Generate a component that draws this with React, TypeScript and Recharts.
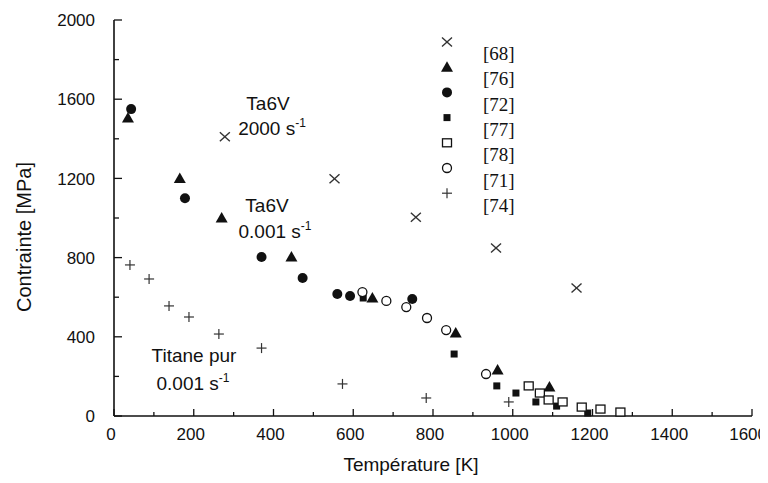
import { ScatterChart, Scatter, XAxis, YAxis, Legend } from "recharts";

// values (temperature K, stress MPa)
const ref68 = [
  { t: 278, s: 1410 },
  { t: 553, s: 1198 },
  { t: 757, s: 1004 },
  { t: 958, s: 848 },
  { t: 1160, s: 646 },
];
const ref76 = [
  { t: 35, s: 1505 },
  { t: 165, s: 1200 },
  { t: 270, s: 1000 },
  { t: 445, s: 803 },
  { t: 648, s: 596 },
  { t: 857, s: 419 },
  { t: 962, s: 232 },
  { t: 1092, s: 146 },
];
const ref72 = [
  { t: 43, s: 1550 },
  { t: 178, s: 1100 },
  { t: 370, s: 803 },
  { t: 473, s: 697 },
  { t: 560, s: 616 },
  { t: 592, s: 606 },
  { t: 748, s: 591 },
];
const ref77 = [
  { t: 625, s: 596 },
  { t: 853, s: 313 },
  { t: 960, s: 152 },
  { t: 1008, s: 116 },
  { t: 1058, s: 71 },
  { t: 1110, s: 50 },
  { t: 1188, s: 15 },
];
const ref78 = [
  { t: 1040, s: 152 },
  { t: 1068, s: 116 },
  { t: 1090, s: 81 },
  { t: 1125, s: 71 },
  { t: 1173, s: 45 },
  { t: 1220, s: 35 },
  { t: 1270, s: 20 },
];
const ref71 = [
  { t: 623, s: 626 },
  { t: 683, s: 581 },
  { t: 733, s: 550 },
  { t: 785, s: 495 },
  { t: 833, s: 434 },
  { t: 933, s: 212 },
];
const ref74 = [
  { t: 40, s: 763 },
  { t: 88, s: 692 },
  { t: 138, s: 556 },
  { t: 188, s: 500 },
  { t: 263, s: 414 },
  { t: 370, s: 343 },
  { t: 573, s: 162 },
  { t: 783, s: 91 },
  { t: 990, s: 71 },
];

const series = [
  { name: "[68]", kind: "x", data: ref68 },
  { name: "[76]", kind: "tri", data: ref76 },
  { name: "[72]", kind: "dot", data: ref72 },
  { name: "[77]", kind: "sq", data: ref77 },
  { name: "[78]", kind: "osq", data: ref78 },
  { name: "[71]", kind: "ocirc", data: ref71 },
  { name: "[74]", kind: "plus", data: ref74 },
];

const xTicks = [0, 100, 200, 300, 400, 500, 600, 700, 800, 900, 1000, 1100, 1200, 1300, 1400, 1500, 1600];
const yTicks = [0, 200, 400, 600, 800, 1000, 1200, 1400, 1600, 1800, 2000];

const INK = "#111";
const SANS = "'Liberation Sans', Arial, sans-serif";
const W = 760;
const H = 467;

function Marker({ cx, cy, kind }: { cx: number; cy: number; kind: string }) {
  switch (kind) {
    case "x":
      return (
        <g stroke="#333" strokeWidth={1.4}>
          <line x1={cx - 5} y1={cy - 4.5} x2={cx + 5} y2={cy + 4.5} />
          <line x1={cx - 5} y1={cy + 4.5} x2={cx + 5} y2={cy - 4.5} />
        </g>
      );
    case "tri":
      return <polygon points={`${cx},${cy - 6} ${cx - 6},${cy + 4.5} ${cx + 6},${cy + 4.5}`} fill={INK} />;
    case "dot":
      return <circle cx={cx} cy={cy} r={5} fill={INK} />;
    case "sq":
      return <rect x={cx - 3.5} y={cy - 3.5} width={7} height={7} fill={INK} />;
    case "osq":
      return <rect x={cx - 4.5} y={cy - 4} width={9} height={8} fill="#fff" stroke={INK} strokeWidth={1.3} />;
    case "ocirc":
      return <circle cx={cx} cy={cy} r={4.5} fill="#fff" stroke={INK} strokeWidth={1.3} />;
    default:
      return (
        <g stroke="#333" strokeWidth={1.2}>
          <line x1={cx - 5} y1={cy} x2={cx + 5} y2={cy} />
          <line x1={cx} y1={cy - 5} x2={cx} y2={cy + 5} />
        </g>
      );
  }
}

const BOTTOM_GAP = 12;
const LEFT_GAP = 19;

function BottomTick(props: any) {
  const { x, y, payload } = props;
  const major = payload.value % 200 === 0;
  const axisY = y - BOTTOM_GAP;
  // the last label would run past the page edge, so it is kept inside
  const last = payload.value === 1600;
  return (
    <g>
      <line x1={x} x2={x} y1={axisY} y2={axisY - (major ? 7 : 4)} stroke={INK} strokeWidth={1.3} />
      {major && (
        <text
          x={last ? W - 1 : x - 3}
          y={y + 12}
          textAnchor={last ? "end" : "middle"}
          fontFamily={SANS}
          fontSize={17}
          fill={INK}
        >
          {payload.value}
        </text>
      )}
    </g>
  );
}

function LeftTick(props: any) {
  const { x, y, payload } = props;
  const major = payload.value % 400 === 0;
  const axisX = x + LEFT_GAP;
  return (
    <g>
      <line x1={axisX} x2={axisX + (major ? 8 : 5)} y1={y} y2={y} stroke={INK} strokeWidth={1.3} />
      {major && (
        <text x={x} y={y} dy="0.36em" textAnchor="end" fontFamily={SANS} fontSize={17} fill={INK}>
          {payload.value}
        </text>
      )}
    </g>
  );
}

function TopTick(props: any) {
  const { x, y, payload } = props;
  const major = payload.value % 200 === 0;
  return <line x1={x} x2={x} y1={y} y2={y + (major ? 7 : 4)} stroke={INK} strokeWidth={1.3} />;
}

function RightTick(props: any) {
  const { x, y, payload } = props;
  const major = payload.value % 400 === 0;
  return <line x1={x} x2={x - (major ? 8 : 5)} y1={y} y2={y} stroke={INK} strokeWidth={1.3} />;
}

function LegendBox() {
  return (
    <svg width={90} height={200} style={{ display: "block" }}>
      {series.map((s, i) => (
        <g key={s.name}>
          <Marker cx={11} cy={14 + i * 25.2} kind={s.kind} />
          <text x={47} y={32 + i * 25.3} fontFamily="'Liberation Serif', 'Times New Roman', serif" fontSize={19} fill={INK}>
            {s.name}
          </text>
        </g>
      ))}
    </svg>
  );
}

function Rate({ x, y, value }: { x: number; y: number; value: string }) {
  return (
    <text x={x} y={y} textAnchor="middle" fontFamily={SANS} fontSize={19} fill={INK}>
      {value} s<tspan dy={-8} fontSize={12}>-1</tspan>
    </text>
  );
}

export default function App() {
  return (
    <div style={{ position: "relative", width: W, height: H }}>
      <ScatterChart width={W} height={H} margin={{ top: 12, right: 16, left: 0, bottom: 0 }}>
        <XAxis
          xAxisId="b"
          type="number"
          dataKey="t"
          domain={[0, 1600]}
          ticks={xTicks}
          interval={0}
          height={59}
          tickSize={0}
          tickMargin={BOTTOM_GAP}
          tickLine={false}
          tick={<BottomTick />}
          axisLine={{ stroke: INK, strokeWidth: 1.6 }}
        />
        <XAxis
          xAxisId="top"
          orientation="top"
          type="number"
          domain={[0, 1600]}
          ticks={xTicks}
          interval={0}
          height={0}
          tickSize={0}
          tickMargin={0}
          tickLine={false}
          tick={<TopTick />}
          axisLine={{ stroke: "#555", strokeWidth: 1.3 }}
        />
        <YAxis
          yAxisId="l"
          type="number"
          dataKey="s"
          domain={[0, 2000]}
          ticks={yTicks}
          interval={0}
          width={106}
          tickSize={0}
          tickMargin={LEFT_GAP}
          tickLine={false}
          tick={<LeftTick />}
          axisLine={{ stroke: INK, strokeWidth: 1.6 }}
        />
        <YAxis
          yAxisId="r"
          orientation="right"
          type="number"
          domain={[0, 2000]}
          ticks={yTicks}
          interval={0}
          width={0}
          tickSize={0}
          tickMargin={0}
          tickLine={false}
          tick={<RightTick />}
          axisLine={{ stroke: INK, strokeWidth: 1.6 }}
        />
        {series.map((s) => (
          <Scatter
            key={s.name}
            name={s.name}
            data={s.data}
            xAxisId="b"
            yAxisId="l"
            isAnimationActive={false}
            shape={(p: any) => <Marker cx={p.cx} cy={p.cy} kind={s.kind} />}
          />
        ))}
        <Legend
          layout="horizontal"
          align="center"
          verticalAlign="middle"
          wrapperStyle={{ left: 428, top: 20, width: 90, height: 200 }}
          content={() => <LegendBox />}
        />
      </ScatterChart>
      <svg
        width={W}
        height={H}
        style={{ position: "absolute", left: 0, top: 0, pointerEvents: "none" }}
      >
        <text x={260} y={102} textAnchor="middle" fontFamily={SANS} fontSize={19} fill={INK}>Ta6V</text>
        <Rate x={264} y={127} value="2000" />
        <text x={259} y={204} textAnchor="middle" fontFamily={SANS} fontSize={19} fill={INK}>Ta6V</text>
        <Rate x={267} y={230} value="0.001" />
        <text x={186} y={354} textAnchor="middle" fontFamily={SANS} fontSize={19} fill={INK}>Titane pur</text>
        <Rate x={185} y={382} value="0.001" />
        <text
          transform="translate(23, 229) rotate(-90)"
          textAnchor="middle"
          fontFamily={SANS}
          fontSize={20}
          fill={INK}
        >
          Contrainte [MPa]
        </text>
        <text x={403} y={463} textAnchor="middle" fontFamily={SANS} fontSize={19} fill={INK}>
          Température [K]
        </text>
      </svg>
    </div>
  );
}
